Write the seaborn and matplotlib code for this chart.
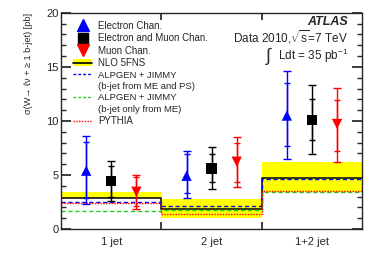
import matplotlib
matplotlib.use("Agg")
import matplotlib.pyplot as plt
import seaborn as sns
import pandas as pd
import numpy as np
from matplotlib.lines import Line2D
from matplotlib.patches import Patch

# bins: 1 jet, 2 jet, 1+2 jet
bin_labels = ["1 jet", "2 jet", "1+2 jet"]
bin_edges = [0, 1, 2, 3]

# measured cross sections [pb] with stat (inner) and total (outer) bounds
ele_val = [5.4, 4.93, 10.5]
ele_stat_hi = [8.03, 6.95, 13.55]
ele_stat_lo = [2.9, 3.3, 7.7]
ele_tot_hi = [8.64, 7.25, 14.66]
ele_tot_lo = [2.31, 2.84, 6.5]

comb_val = [4.47, 5.6, 10.1]
comb_stat_hi = [5.86, 6.94, 12.0]
comb_stat_lo = [3.0, 4.32, 8.24]
comb_tot_hi = [6.3, 7.56, 13.33]
comb_tot_lo = [2.6, 3.7, 6.9]

muon_val = [3.45, 6.23, 9.72]
muon_stat_hi = [4.8, 7.93, 11.94]
muon_stat_lo = [2.1, 4.38, 7.25]
muon_tot_hi = [5.03, 8.5, 13.08]
muon_tot_lo = [1.82, 3.86, 6.23]

# theory predictions
nlo_central = [2.9, 1.85, 4.75]
nlo_band_lo = [2.85, 0.99, 3.4]
nlo_band_hi = [3.4, 2.75, 6.17]
alpgen_me_ps = [2.53, 2.13, 4.6]
alpgen_me = [1.67, 1.76, 3.4]
pythia = [2.38, 1.36, 3.55]

sns.set_theme(style="ticks")
plt.rcParams['font.family'] = ['Liberation Sans', 'DejaVu Sans']
plt.rcParams['mathtext.fontset'] = 'custom'
plt.rcParams['mathtext.rm'] = 'Liberation Sans'

fig = plt.figure(figsize=(3.82, 2.74), dpi=100)
ax = fig.add_axes([0.160, 0.164, 0.788, 0.789])

edges = np.array(bin_edges, dtype=float)
ax.stairs(nlo_band_hi, edges, baseline=nlo_band_lo, fill=True,
          color="#ffff00", lw=0)
ax.stairs(nlo_central, edges, color="black", lw=1.1, baseline=None)
ax.stairs(alpgen_me_ps, edges, color="blue", lw=1.0, ls=(0, (3, 2)), baseline=None)
ax.stairs(alpgen_me, edges, color="#22cc22", lw=1.0, ls=(0, (3, 2)), baseline=None)
ax.stairs(pythia, edges, color="red", lw=1.0, ls=(0, (1, 1)), baseline=None)

centers = np.array(bin_edges[:-1]) + 0.5
offsets = {"ele": -0.25, "comb": 0.0, "muon": 0.25}

rows = []
for name, vals in [("ele", ele_val), ("comb", comb_val), ("muon", muon_val)]:
    for c, v in zip(centers, vals):
        rows.append({"chan": name, "x": c + offsets[name], "y": v})
df = pd.DataFrame(rows)

series = [
    ("ele", "blue", ele_val, ele_stat_lo, ele_stat_hi, ele_tot_lo, ele_tot_hi),
    ("comb", "black", comb_val, comb_stat_lo, comb_stat_hi, comb_tot_lo, comb_tot_hi),
    ("muon", "red", muon_val, muon_stat_lo, muon_stat_hi, muon_tot_lo, muon_tot_hi),
]
for name, col, v, slo, shi, tlo, thi in series:
    x = centers + offsets[name]
    v = np.array(v)
    ax.errorbar(x, v, yerr=[v - np.array(tlo), np.array(thi) - v], fmt="none",
                ecolor=col, elinewidth=1.0, capsize=3, capthick=1.0)
    ax.errorbar(x, v, yerr=[v - np.array(slo), np.array(shi) - v], fmt="none",
                ecolor=col, elinewidth=1.0, capsize=2.2, capthick=1.0)

sns.scatterplot(data=df, x="x", y="y", hue="chan", style="chan",
                palette={"ele": "blue", "comb": "black", "muon": "red"},
                markers={"ele": "^", "comb": "s", "muon": "v"},
                s=55, linewidth=0, legend=False, ax=ax, zorder=5)

ax.set_xlim(0, 3)
ax.set_ylim(0, 20)
ax.set_xticks([1, 2])
ax.set_xticklabels([])
ax.set_xticks(centers, minor=True)
ax.set_xticklabels(bin_labels, minor=True, fontsize=8)
ax.tick_params(axis="x", which="minor", length=0, pad=6)
ax.tick_params(axis="x", which="major", direction="in", length=5, top=True)
ax.set_yticks([0, 5, 10, 15, 20])
ax.set_yticks(np.arange(0, 21, 1), minor=True)
ax.tick_params(axis="y", which="major", direction="in", length=7, right=True,
               labelsize=8, pad=2)
ax.tick_params(axis="y", which="minor", direction="in", length=3.5, right=True)
for sp in ax.spines.values():
    sp.set_linewidth(1.0)
ax.set_xlabel("")
ax.set_ylabel("σ(W→ ℓν + ≥ 1 b-jet) [pb]", fontsize=6.6, loc="top")
ax.yaxis.set_label_coords(-0.094, 1.0)

handles = [
    Line2D([], [], marker="^", color="blue", ls="none", markersize=8),
    Line2D([], [], marker="s", color="black", ls="none", markersize=7),
    Line2D([], [], marker="v", color="red", ls="none", markersize=8),
    (Patch(facecolor="#ffff00", edgecolor="none"), Line2D([], [], color="black", lw=1.2)),
    Line2D([], [], color="blue", lw=1.0, ls=(0, (2, 1.5))),
    Line2D([], [], color="none"),
    Line2D([], [], color="#22cc22", lw=1.0, ls=(0, (2, 1.5))),
    Line2D([], [], color="none"),
    Line2D([], [], color="red", lw=1.0, ls=(0, (1, 1))),
]
labels = ["Electron Chan.", "Electron and Muon Chan.", "Muon Chan.", "NLO 5FNS",
          "ALPGEN + JIMMY", "(b-jet from ME and PS)", "ALPGEN + JIMMY",
          "(b-jet only from ME)", "PYTHIA"]
leg = ax.legend(handles, labels, loc="upper left", bbox_to_anchor=(0.02, 0.99),
                frameon=False, fontsize=7, handlelength=2.0, handletextpad=0.6,
                labelspacing=0.25, borderaxespad=0.2)
for t in leg.get_texts()[4:8]:
    t.set_fontsize(6.8)

ax.text(0.953, 0.958, "ATLAS", transform=ax.transAxes, ha="right", va="center",
        fontsize=9, fontweight="bold", fontstyle="italic")
ax.text(0.953, 0.889, "Data 2010,$\\sqrt{\\mathrm{s}}$=7 TeV", transform=ax.transAxes,
        ha="right", va="center", fontsize=8.5)
ax.text(0.69, 0.80, "∫", transform=ax.transAxes, ha="center", va="center",
        fontsize=13)
ax.text(0.953, 0.803, "Ldt = 35 pb$^{\\mathrm{-1}}$", transform=ax.transAxes,
        ha="right", va="center", fontsize=8.5)

fig.savefig("out.png", dpi=100)
